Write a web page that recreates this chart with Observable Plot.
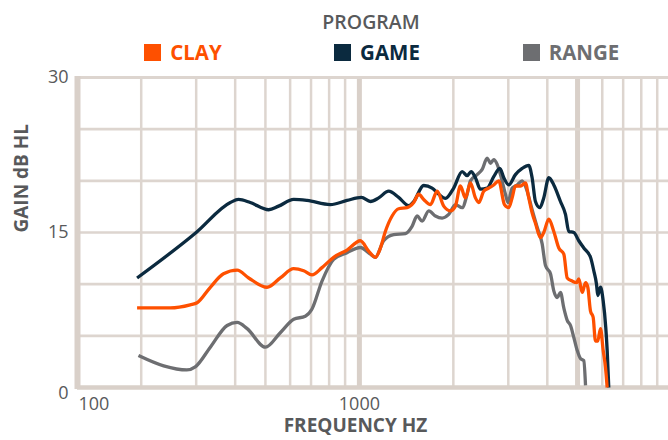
<!DOCTYPE html>
<html>
<head>
<meta charset="utf-8">
<script src="https://cdn.jsdelivr.net/npm/d3@7"></script>
<script src="https://cdn.jsdelivr.net/npm/@observablehq/plot@0.6"></script>
<style>
  html, body { margin: 0; padding: 0; background: #fff; }
  #wrap { position: relative; width: 668px; height: 440px; overflow: hidden; font-family: "Open Sans", sans-serif; }
  #chart { position: absolute; left: 0; top: 0; }
  #legendTitle { position: absolute; left: 271px; top: 11.5px; width: 200px; text-align: center;
    font-size: 19.5px; line-height: 1; font-weight: 600; color: #58595b; }
  #legendItems { position: absolute; left: 86px; top: 42px; width: 582px; display: flex; }
  .item { width: 194px; display: flex; justify-content: center; align-items: center; gap: 9px;
    font-size: 20.5px; line-height: 1; font-weight: 700; }
  .swatch { width: 17px; height: 17px; display: inline-block; }
</style>
</head>
<body>
<div id="wrap">
  <div id="chart"></div>
  <div id="legendTitle"></div>
  <div id="legendItems"></div>
</div>
<script>
// ---- data ----
const legendTitle = "PROGRAM";
const programs = ["CLAY", "GAME", "RANGE"];
const programColors = ["#fe5000", "#0b2a3f", "#6d6e71"];

const clayHz = [194, 248, 287, 302, 333, 367, 406, 442, 506, 558, 616, 663, 705, 759, 827, 913, 1007, 1071, 1125, 1168, 1211, 1273, 1336, 1422, 1493, 1549, 1607, 1689, 1775, 1863, 1957, 2031, 2107, 2186, 2269, 2354, 2413, 2503, 2597, 2694, 2796, 2916, 3010, 3086, 3162, 3281, 3405, 3481, 3576, 3665, 3803, 3896, 4045, 4196, 4354, 4518, 4633, 4806, 4961, 5046, 5175, 5303, 5393, 5501, 5610, 5706, 5805, 5921, 6040, 6142, 6221];
const clayDb = [7.7, 7.7, 8.0, 8.2, 9.7, 11.0, 11.35, 10.6, 9.7, 10.6, 11.5, 11.3, 10.9, 11.6, 12.6, 13.3, 14.2, 13.2, 12.6, 13.5, 15.1, 16.6, 17.3, 17.4, 17.9, 18.7, 18.2, 17.7, 19.0, 17.55, 17.1, 17.55, 19.5, 18.35, 19.8, 18.35, 17.9, 19.0, 19.3, 19.6, 20.0, 17.7, 17.4, 18.35, 19.5, 19.5, 19.8, 18.5, 16.9, 15.9, 14.5, 15.0, 16.3, 15.1, 13.5, 12.9, 10.6, 10.3, 10.15, 10.5, 9.2, 10.15, 9.7, 7.4, 6.8, 4.5, 4.5, 5.7, 3.6, 2.0, 0];

const gameHz = [194, 300, 386, 410, 447, 512, 551, 616, 680, 807, 913, 1015, 1085, 1153, 1241, 1336, 1439, 1493, 1607, 1710, 1796, 1887, 2005, 2134, 2214, 2280, 2354, 2442, 2567, 2694, 2818, 2902, 3010, 3162, 3323, 3488, 3576, 3665, 3784, 3896, 4045, 4196, 4408, 4574, 4687, 4863, 5046, 5235, 5501, 5636, 5750, 5805, 5921, 6040, 6157, 6221, 6295];
const gameDb = [10.6, 15.0, 17.9, 18.2, 17.9, 17.2, 17.55, 18.2, 18.1, 17.7, 18.1, 18.4, 18.0, 18.35, 19.0, 18.4, 17.6, 18.0, 19.55, 19.3, 18.7, 18.3, 19.3, 20.9, 20.5, 20.9, 20.3, 19.2, 19.3, 20.4, 21.2, 20.3, 19.6, 20.6, 21.2, 21.5, 20.3, 18.0, 17.4, 18.35, 20.3, 19.6, 18.0, 16.75, 15.1, 15.0, 14.2, 13.5, 12.6, 11.3, 10.0, 8.9, 9.7, 8.4, 5.8, 3.6, 0];

const rangeHz = [196, 236, 280, 298, 333, 377, 406, 437, 500, 558, 616, 671, 705, 759, 827, 913, 1007, 1085, 1125, 1196, 1288, 1404, 1475, 1531, 1589, 1668, 1752, 1841, 1933, 2031, 2134, 2214, 2269, 2384, 2474, 2567, 2630, 2694, 2763, 2831, 2938, 2992, 3086, 3201, 3323, 3448, 3576, 3712, 3851, 3947, 4095, 4196, 4302, 4408, 4518, 4633, 4747, 4863, 4986, 5108, 5235, 5303];
const rangeDb = [3.1, 2.1, 1.7, 2.0, 3.9, 6.0, 6.3, 5.7, 3.9, 5.3, 6.6, 6.9, 7.6, 10.3, 12.4, 13.05, 13.55, 12.9, 12.6, 14.2, 14.8, 14.9, 15.6, 16.6, 16.1, 17.1, 16.6, 16.4, 16.75, 17.7, 17.4, 18.7, 20.0, 20.6, 21.1, 22.2, 21.7, 22.05, 21.6, 20.6, 18.7, 17.9, 19.3, 19.6, 20.0, 19.0, 17.2, 15.5, 13.9, 11.8, 11.0, 9.35, 8.7, 9.2, 7.7, 6.5, 6.0, 4.85, 3.6, 2.8, 2.6, 0.2];

// axis ticks / grid
const xTickAt = [141, 1000, 7230];          // where the reference prints its labels
const xTickLabels = ["100", "1000", "10000"];
const yTicks = [15, 30];
const yTickZero = [0];
const gridMinorX = [200, 300, 400, 500, 600, 700, 800, 900, 2000, 3000, 4000, 6000, 7000, 8000, 9000];
const gridMajorX = [1000, 5000];
const gridY = [5, 10, 15, 20, 25];
const xTitle = "FREQUENCY HZ";
const yTitle = "GAIN dB HL";

// ---- build table ----
const seriesData = { CLAY: [clayHz, clayDb], GAME: [gameHz, gameDb], RANGE: [rangeHz, rangeDb] };
const drawOrder = ["RANGE", "GAME", "CLAY"];
const rows = drawOrder.flatMap(p => seriesData[p][0].map((h, i) => ({ program: p, hz: h, db: seriesData[p][1][i] })));

const gridColor = "#ddd5cf";
const textColor = "#58595b";

const chart = Plot.plot({
  width: 668,
  height: 440,
  marginLeft: 77,
  marginRight: 0,
  marginTop: 77,
  marginBottom: 53,
  x: { type: "log", domain: [125, 9780] },
  y: { domain: [0, 30] },
  color: { domain: programs, range: programColors },
  style: { fontFamily: "Open Sans, sans-serif", color: textColor, background: "white", overflow: "visible" },
  marks: [
    Plot.ruleX(gridMinorX, { stroke: gridColor, strokeWidth: 2.5 }),
    Plot.ruleX(gridMajorX, { stroke: "#d9d0c9", strokeWidth: 5 }),
    Plot.ruleY(gridY, { stroke: gridColor, strokeWidth: 2.7 }),
    Plot.ruleY([30], { stroke: gridColor, strokeWidth: 3 }),
    Plot.ruleY([0], { stroke: "#d9d0c9", strokeWidth: 4.5 }),
    Plot.ruleX([125], { stroke: "#d9d0c9", strokeWidth: 6, y1: 30.1, y2: -0.2 }),
    Plot.line(rows, {
      x: "hz", y: "db", z: "program", stroke: "program",
      strokeWidth: 3.3, curve: "monotone-x", strokeLinejoin: "round", strokeLinecap: "butt"
    }),
    Plot.axisX({
      ticks: xTickAt, tickFormat: d => xTickLabels[xTickAt.indexOf(d)],
      tickSize: 0, tickPadding: 10, fontSize: 18, label: null, fill: textColor
    }),
    Plot.axisY({ ticks: yTicks, tickSize: 0, tickPadding: 9, fontSize: 18, label: null, fill: textColor }),
    Plot.axisY({ ticks: yTickZero, tickSize: 0, tickPadding: 9, fontSize: 18, label: null, fill: textColor, dy: 6 }),
    Plot.text([yTitle], { text: d => d, frameAnchor: "left", rotate: -90, dx: -56, fontSize: 19, fontWeight: 700, fill: textColor }),
    Plot.text([xTitle], { text: d => d, frameAnchor: "bottom", dx: -17.5, dy: 44.5, fontSize: 19, fontWeight: 700, fill: textColor })
  ]
});
document.getElementById("chart").appendChild(chart);

// ---- legend ----
document.getElementById("legendTitle").textContent = legendTitle;
const items = document.getElementById("legendItems");
programs.forEach((p, i) => {
  const it = document.createElement("div");
  it.className = "item";
  it.style.color = programColors[i];
  const sw = document.createElement("span");
  sw.className = "swatch";
  sw.style.background = programColors[i];
  const tx = document.createElement("span");
  tx.textContent = p;
  it.appendChild(sw);
  it.appendChild(tx);
  items.appendChild(it);
});
</script>
</body>
</html>
